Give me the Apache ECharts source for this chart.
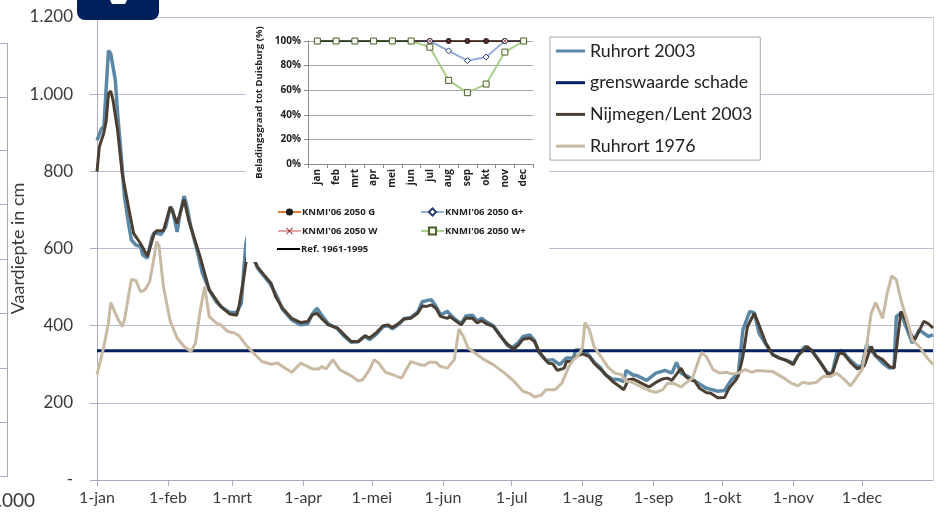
<!DOCTYPE html>
<html>
<head>
<meta charset="utf-8">
<script src="https://cdn.jsdelivr.net/npm/echarts@6/dist/echarts.min.js"></script>
<style>
  html, body { margin: 0; padding: 0; background: #ffffff; }
  #main { position: absolute; left: 0; top: 0; width: 938px; height: 516px; }
  #inset { position: absolute; left: 246px; top: 22px; width: 303px; height: 240px; background: #ffffff; filter: blur(0.3px); }
</style>
</head>
<body>
<div id="main"></div>
<div id="inset"></div>
<script>
// ---- Vaardiepte (cm) per dag van het jaar (0 = 1 januari) ----
const ruhrort2003Days = [0,2,3,5,6,8,9,11,12,14,15,17,19,20,22,24,25,28,30,32,33,35,36,38,39,41,44,46,49,52,55,58,61,63,64,65,66,68,70,73,76,79,81,85,89,92,94,96,98,101,105,108,111,114,117,119,122,125,127,129,132,134,137,140,142,144,146,148,150,153,154,156,159,161,164,166,168,170,173,176,179,181,184,186,189,191,193,196,199,202,205,208,209,212,214,217,220,222,225,228,230,231,234,236,240,244,248,251,253,255,258,262,266,271,274,277,280,282,285,287,289,292,295,298,301,304,306,309,312,316,319,321,323,325,329,332,334,336,340,343,346,348,349,351,354,356,359,363,365];
const ruhrort2003Values = [880,911,916,1113,1105,1036,950,811,734,656,622,609,605,583,575,630,641,637,656,708,700,643,682,736,717,656,588,536,493,462,445,434,434,458,536,613,640,590,550,528,505,470,442,415,402,405,430,445,428,405,392,372,357,358,372,364,378,398,400,392,405,418,421,435,462,465,467,450,428,437,430,418,405,425,427,412,419,410,400,376,350,342,356,372,376,362,330,310,312,299,316,316,337,337,328,306,290,272,262,260,255,284,272,270,258,277,284,277,305,277,268,253,238,230,232,260,277,389,437,433,381,352,325,316,310,303,322,346,336,303,277,277,329,336,310,294,296,350,322,303,290,292,424,432,385,355,389,372,376];

const nijmegen2003Days = [0,1,3,4,5,6,7,9,11,14,16,19,22,25,26,29,32,33,35,38,40,45,49,54,58,61,62,64,65,66,68,70,73,76,78,81,85,89,92,94,96,98,101,105,108,111,114,117,119,122,125,127,129,132,134,137,140,142,144,146,148,150,153,154,156,159,161,164,166,168,170,173,176,179,182,184,186,189,191,193,197,199,201,204,205,207,209,212,215,217,220,223,225,228,230,232,234,237,240,241,244,247,249,251,255,257,259,261,263,266,268,271,274,276,279,280,282,284,287,289,292,295,298,301,304,306,310,312,316,319,321,324,326,329,332,335,338,340,343,346,348,349,351,353,355,357,361,363,365];
const nijmegen2003Values = [799,863,900,930,1001,1008,984,906,794,700,639,613,580,639,646,646,708,695,665,727,674,579,493,450,430,427,450,520,562,590,575,553,531,510,475,445,419,408,411,428,432,419,402,394,376,359,359,374,368,382,400,402,395,407,417,419,432,451,450,454,445,424,419,424,415,402,419,419,407,413,405,398,374,353,339,350,365,368,359,333,303,301,284,290,307,307,320,327,320,303,286,268,256,243,234,260,262,253,244,241,253,262,264,258,290,268,260,256,238,227,225,213,214,238,260,270,320,398,432,402,355,325,316,310,299,322,346,336,303,275,275,329,327,305,288,296,346,322,312,294,290,338,437,415,381,363,411,405,394];

const ruhrort1976Days = [0,3,5,6,9,11,12,15,17,19,21,23,25,26,27,29,32,35,38,41,43,45,47,49,52,54,57,60,62,65,68,72,76,79,81,85,89,92,94,97,98,100,103,106,111,114,116,119,121,123,126,129,133,135,137,141,143,145,148,150,153,156,158,160,162,165,169,173,178,182,186,189,191,194,196,200,203,206,208,210,212,213,215,217,220,223,226,229,231,233,237,241,244,247,249,252,255,257,260,263,264,266,269,272,275,277,280,283,286,288,290,295,300,303,306,308,311,314,317,320,323,326,329,331,334,336,338,340,343,345,347,349,351,354,356,359,362,365];
const ruhrort1976Values = [273,346,407,460,419,398,415,520,517,488,493,514,579,618,609,501,411,368,346,333,355,437,501,424,407,402,385,381,374,350,331,307,300,303,294,279,303,294,288,288,294,288,312,286,270,257,260,286,312,303,279,273,264,286,307,299,297,305,305,294,290,312,391,372,342,329,312,299,277,256,230,224,215,220,234,234,251,294,312,322,342,408,389,346,320,293,277,273,255,255,243,232,227,234,250,250,241,251,264,316,331,320,286,277,279,275,277,286,279,284,283,281,264,251,244,253,250,253,268,268,277,262,244,260,286,346,432,460,419,484,529,519,467,407,363,346,320,299];

const grenswaardeDays = [0, 365];
const grenswaardeValues = [335, 335];

// ---- Beladingsgraad tot Duisburg (%) per maand ----
const maanden = ['jan','feb','mrt','apr','mei','jun','jul','aug','sep','okt','nov','dec'];
const knmiG      = [100,100,100,100,100,100,100,100,100,100,100,100];
const knmiGPlus  = [100,100,100,100,100,100,100,92,84,87,100,100];
const knmiW      = [100,100,100,100,100,100,100,100,100,100,100,100];
const knmiWPlus  = [100,100,100,100,100,100,95,68,58,65,91,100];
const ref6195    = [100,100,100,100,100,100,100,100,100,100,100,100];

// ---- helpers ----
const DAY_MS = 86400000;
const YEAR_START = Date.UTC(2003, 0, 1);
const YEAR_END = Date.UTC(2004, 0, 1);
const toPoints = (days, values) => days.map((d, i) => [YEAR_START + d * DAY_MS, values[i]]);
const thousands = v => String(v).replace(/\B(?=(\d{3})+(?!\d))/g, '.');

const FONT = 'Lato, "Open Sans", sans-serif';
const GRID_COLOR = '#bcbad2';
const AXIS_COLOR = '#aeabc8';
const TEXT_COLOR = '#3a3a3a';

const main = echarts.init(document.getElementById('main'), null, { renderer: 'canvas' });

const mainLine = (name, days, values, color, width) => ({
  name, type: 'line', showSymbol: false, symbol: 'none',
  data: toPoints(days, values),
  lineStyle: { color, width }, itemStyle: { color },
  animation: false
});

main.setOption({
  useUTC: true,
  animation: false,
  textStyle: { fontFamily: FONT },
  grid: { left: 97, right: 5, top: 17, bottom: 36, containLabel: false, outerBoundsMode: 'none' },
  legend: {
    orient: 'vertical', left: 550, top: 37,
    padding: [4, 8, 4, 6],
    backgroundColor: '#ffffff', borderColor: '#a9a9a9', borderWidth: 1,
    icon: 'rect', itemWidth: 29, itemHeight: 3, itemGap: 11.7,
    textStyle: { fontFamily: FONT, fontSize: 17.8, lineHeight: 20, color: '#222222' },
    data: ['Ruhrort 2003', 'grenswaarde schade', 'Nijmegen/Lent 2003', 'Ruhrort 1976']
  },
  xAxis: {
    type: 'time', min: YEAR_START, max: YEAR_END, splitNumber: 12,
    maxInterval: 31 * DAY_MS, minInterval: 28 * DAY_MS,
    axisLine: { show: true, lineStyle: { color: AXIS_COLOR } },
    axisTick: { show: true, length: 6, lineStyle: { color: AXIS_COLOR } },
    splitLine: { show: false },
    minorTick: { show: false },
    axisLabel: {
      margin: 10, fontSize: 16, color: TEXT_COLOR, fontFamily: FONT,
      formatter: v => {
        const d = new Date(v);
        if (d.getUTCFullYear() !== 2003) return '';
        return d.getUTCDate() + '-' + maanden[d.getUTCMonth()];
      }
    }
  },
  yAxis: [{
    type: 'value', min: 0, max: 1200, interval: 200,
    name: 'Vaardiepte in cm', nameLocation: 'middle', nameGap: 70, nameMoveOverlap: false,
    nameTextStyle: { fontFamily: FONT, fontSize: 18, color: TEXT_COLOR },
    axisLine: { show: true, lineStyle: { color: AXIS_COLOR } },
    axisTick: { show: true, length: 7, lineStyle: { color: AXIS_COLOR } },
    axisLabel: {
      margin: 24, fontSize: 17, color: TEXT_COLOR, fontFamily: FONT,
      formatter: v => v === 0 ? '-' : thousands(v)
    },
    splitLine: { lineStyle: { color: GRID_COLOR, width: 1 } }
  }, {
    type: 'value', position: 'right', min: 0, max: 1200, interval: 200,
    axisLine: { show: true, lineStyle: { color: '#d2d2d2' } },
    axisTick: { show: false }, axisLabel: { show: false }, splitLine: { show: false }
  }],
  series: [
    mainLine('Ruhrort 2003', ruhrort2003Days, ruhrort2003Values, '#5b88a6', 3.5),
    mainLine('grenswaarde schade', grenswaardeDays, grenswaardeValues, '#002060', 3),
    mainLine('Nijmegen/Lent 2003', nijmegen2003Days, nijmegen2003Values, '#4b3f33', 3),
    mainLine('Ruhrort 1976', ruhrort1976Days, ruhrort1976Values, '#c9baa4', 3)
  ],
  graphic: [
    // navy tab at the top edge
    { type: 'rect', z: 100, shape: { x: 77, y: -12, width: 82, height: 32, r: 8 }, style: { fill: '#00205b' } },
    { type: 'polygon', z: 101, shape: { points: [[110, 0], [127, 0], [125, 4], [112, 4]] }, style: { fill: '#ffffff' } },
    // edge of the neighbouring panel on the left
    { type: 'line', shape: { x1: 7.5, y1: 43, x2: 7.5, y2: 477 }, style: { stroke: '#a9a7c4', lineWidth: 1 } },
    ...[43, 97, 150, 204, 259, 313, 368, 422, 476].map(y => ({
      type: 'line', shape: { x1: 0, y1: y + 0.5, x2: 7.5, y2: y + 0.5 }, style: { stroke: '#a9a7c4', lineWidth: 1 }
    })),
    { type: 'text', style: { text: '2.000', x: 35, y: 501, align: 'right', verticalAlign: 'middle', font: '19px ' + FONT, fill: TEXT_COLOR } }
  ]
});

// ---- inset: beladingsgraad ----
const inset = echarts.init(document.getElementById('inset'), null, { renderer: 'canvas' });
const IFONT = '"Open Sans", "Noto Sans", sans-serif';
const crossPath = 'path://M1,0 L5,4 L9,0 L10,1 L6,5 L10,9 L9,10 L5,6 L1,10 L0,9 L4,5 L0,1 Z';

const insetLegend = (name, left, top, extra) => Object.assign({
  data: [name], left, top, padding: 0, itemWidth: 23, itemHeight: 9, itemGap: 0,
  textStyle: { fontFamily: IFONT, fontSize: 9.5, fontWeight: 'bold', color: '#222', padding: [0, 0, 0, -4] }
}, extra || {});

inset.setOption({
  animation: false,
  textStyle: { fontFamily: IFONT },
  grid: { left: 62, top: 19, width: 225, height: 123, outerBoundsMode: 'none' },
  legend: [
    insetLegend("KNMI'06 2050 G", 31, 185),
    insetLegend("KNMI'06 2050 G+", 174, 185),
    insetLegend("KNMI'06 2050 W", 31, 204),
    insetLegend("KNMI'06 2050 W+", 174, 204),
    insetLegend('Ref. 1961-1995', 31, 222, { icon: 'rect', itemHeight: 2,
      textStyle: { fontFamily: IFONT, fontSize: 9.5, fontWeight: 'bold', color: '#222', lineHeight: 9, padding: [0, 0, 0, -4] } })
  ],
  xAxis: {
    type: 'category', data: maanden, boundaryGap: true,
    axisLine: { lineStyle: { color: '#8c8c8c' } },
    axisTick: { show: true, length: 4, lineStyle: { color: '#8c8c8c' } },
    axisLabel: { rotate: 90, fontSize: 10, fontWeight: 'bold', color: '#222', margin: 5, fontFamily: IFONT }
  },
  yAxis: {
    type: 'value', min: 0, max: 100, interval: 20,
    name: 'Beladingsgraad tot Duisburg (%)', nameLocation: 'middle', nameGap: 40,
    nameTextStyle: { fontSize: 9.5, fontWeight: 'bold', color: '#222', fontFamily: IFONT },
    axisLine: { show: true, lineStyle: { color: '#8c8c8c' } },
    axisTick: { show: true, length: 4, lineStyle: { color: '#8c8c8c' } },
    axisLabel: { formatter: '{value}%', fontSize: 10, fontWeight: 'bold', color: '#222', margin: 7, fontFamily: IFONT },
    splitLine: { lineStyle: { color: '#a6a6a6' } }
  },
  series: [
    { name: "KNMI'06 2050 G", type: 'line', data: knmiG, symbol: 'circle', symbolSize: 5,
      lineStyle: { color: '#e87a2e', width: 1.5 }, itemStyle: { color: '#1c1c1c', borderColor: '#1c1c1c' } },
    { name: "KNMI'06 2050 G+", type: 'line', data: knmiGPlus, symbol: 'diamond', symbolSize: 6,
      lineStyle: { color: '#97aedb', width: 2 }, itemStyle: { color: '#ffffff', borderColor: '#263c6c', borderWidth: 1 } },
    { name: "KNMI'06 2050 W", type: 'line', data: knmiW, symbol: crossPath, symbolSize: 5,
      lineStyle: { color: '#e6a3a3', width: 1.5 }, itemStyle: { color: '#9b3b3b' } },
    { name: "KNMI'06 2050 W+", type: 'line', data: knmiWPlus, symbol: 'rect', symbolSize: 6,
      lineStyle: { color: '#a9cf8a', width: 2 }, itemStyle: { color: '#f4f8ee', borderColor: '#4d5f2a', borderWidth: 1 } },
    { name: 'Ref. 1961-1995', type: 'line', data: ref6195, symbol: 'none',
      lineStyle: { color: '#000000', width: 1.5 }, itemStyle: { color: '#000000' } }
  ]
});
</script>
</body>
</html>
